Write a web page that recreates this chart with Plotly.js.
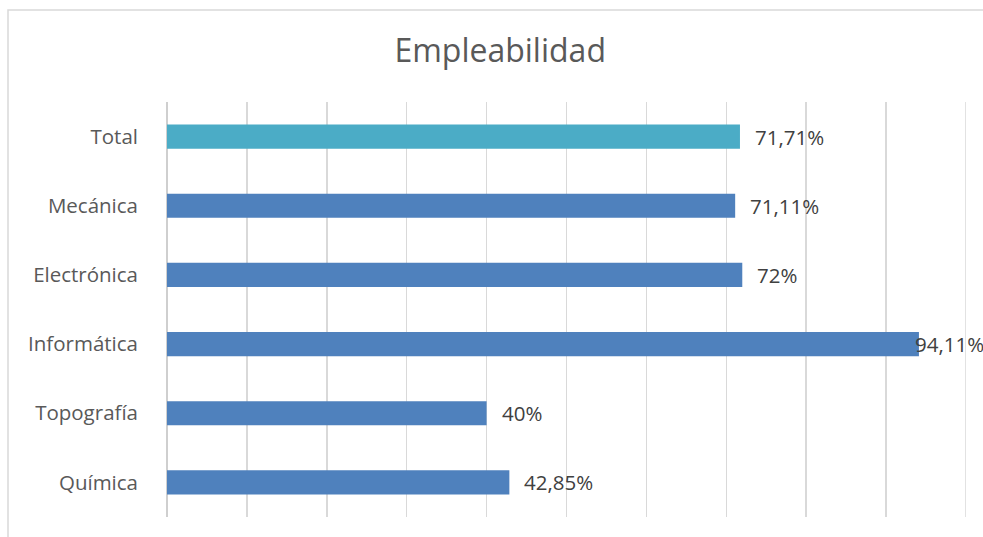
<!DOCTYPE html>
<html>
<head>
<meta charset="utf-8">
<script src="https://cdn.plot.ly/plotly-3.0.1.min.js"></script>
<style>html,body{margin:0;padding:0;background:#fff;}#chart{width:983px;height:537px;}</style>
</head>
<body>
<div id="chart"></div>
<script>
var categories = ["Total", "Mecánica", "Electrónica", "Informática", "Topografía", "Química"];
var values = [71.71, 71.11, 72, 94.11, 40, 42.85];
var valueLabels = ["71,71%", "71,11%", "72%", "94,11%", "40%", "42,85%"];
var barColors = ["#4bacc6", "#4f81bd", "#4f81bd", "#4f81bd", "#4f81bd", "#4f81bd"];

var trace = {
  type: "bar",
  orientation: "h",
  y: categories,
  x: values,
  marker: {color: barColors},
  width: 0.35,
  hoverinfo: "none"
};

var annotations = categories.map(function(c, i) {
  var inside = values[i] > 90;
  return {
    x: values[i], y: c, xref: "x", yref: "y",
    text: valueLabels[i], showarrow: false,
    xanchor: "left", yanchor: "middle",
    xshift: inside ? -6 : 13,
    font: {family: "Open Sans, Noto Sans, sans-serif", size: 20.5, color: "#404040"}
  };
});

var layout = {
  width: 983, height: 537,
  margin: {l: 167, r: 17, t: 102, b: 20},
  paper_bgcolor: "#ffffff", plot_bgcolor: "#ffffff",
  showlegend: false,
  title: {
    text: "Empleabilidad",
    x: 0.417, xref: "paper", xanchor: "center", y: 0.905, yanchor: "middle",
    font: {family: "Open Sans, Noto Sans, sans-serif", size: 32, color: "#595959"}
  },
  xaxis: {
    range: [0, 100], dtick: 10, showticklabels: false,
    showgrid: true, gridcolor: "#d9d9d9", gridwidth: 1.5,
    zeroline: true, zerolinecolor: "#cfcfcf", zerolinewidth: 2,
    showline: false, fixedrange: true
  },
  yaxis: {
    autorange: "reversed", type: "category",
    showgrid: false, zeroline: false, showline: false,
    ticks: "", ticklabelstandoff: 28,
    tickfont: {family: "Open Sans, Noto Sans, sans-serif", size: 20.5, color: "#595959"},
    fixedrange: true
  },
  annotations: annotations,
  shapes: [{
    type: "rect", xref: "paper", yref: "paper",
    x0: -0.199, x1: 1.2, y0: -0.2, y1: 1.2217,
    line: {color: "#d9d9d9", width: 1.5}, fillcolor: "rgba(0,0,0,0)", layer: "below"
  }, {
    type: "line", xref: "x", yref: "paper",
    x0: 100, x1: 100, y0: 0, y1: 1,
    line: {color: "#d9d9d9", width: 1.5}, layer: "below"
  }]
};

Plotly.newPlot("chart", [trace], layout, {displayModeBar: false, staticPlot: true});
</script>
</body>
</html>
